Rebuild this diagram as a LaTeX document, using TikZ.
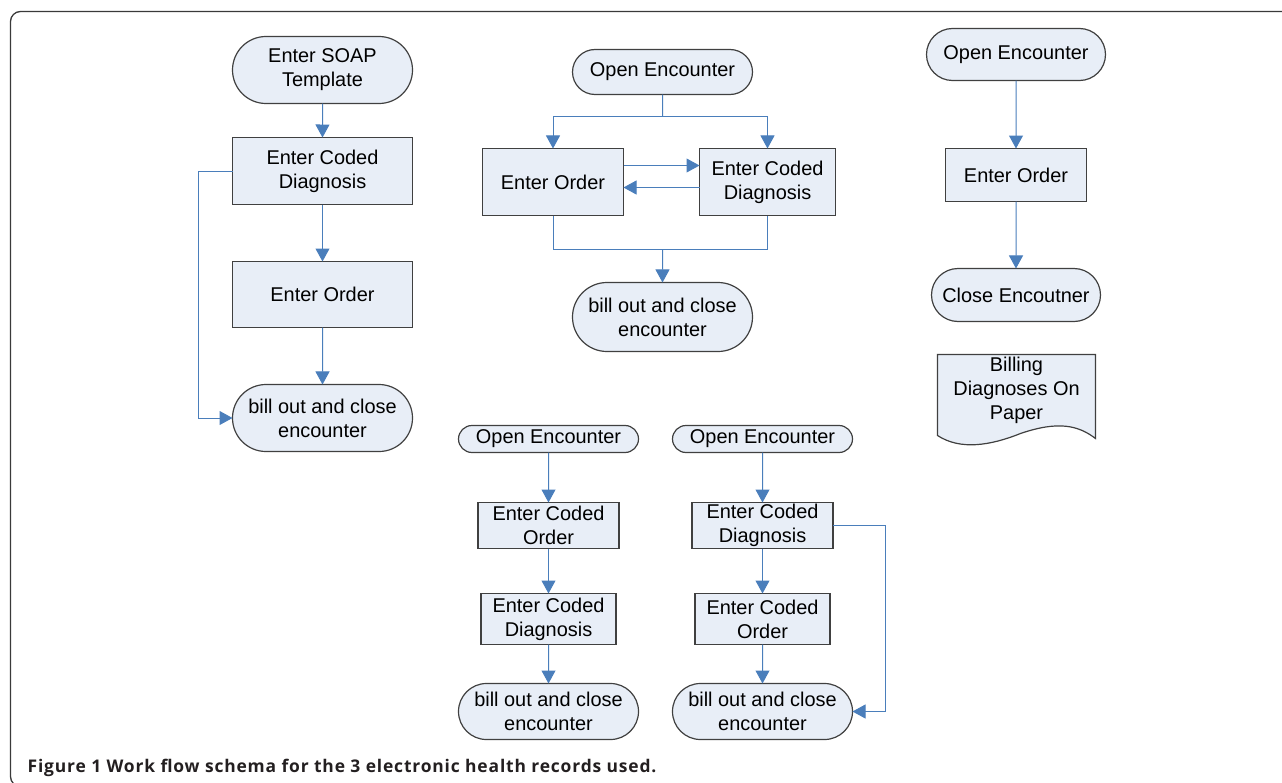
\documentclass[tikz,border=0pt]{standalone}
\usepackage{fontspec}
\setmainfont{Liberation Sans}
\newfontfamily\capfont[LetterSpace=4.8]{Open Sans}
\usepackage{xcolor}
\usetikzlibrary{positioning}
\usetikzlibrary{shapes.misc}
\usetikzlibrary{arrows.meta}
\definecolor{boxfill}{HTML}{E8EEF7}
\definecolor{boxline}{HTML}{404040}
\definecolor{flow}{HTML}{4A7EBB}
\definecolor{framegray}{HTML}{3A3A3A}
\definecolor{captext}{HTML}{231F20}

\begin{document}
\begin{tikzpicture}[x=1bp,y=-1bp,
  proc/.style={draw=boxline,fill=boxfill,line width=1.2bp,outer sep=0pt,align=center,inner sep=0pt,font=\fontsize{20}{24}\selectfont},
  term/.style={proc,rounded rectangle},
  link/.style={draw=flow,line width=1bp},
  arr/.style={link,-{Triangle[width=14bp,length=13bp]}}]
\useasboundingbox (-0.5,-0.5) rectangle (1281.5,782.5);
\draw [framegray,line width=1.3bp,rounded corners=10bp] (1300,11) -- (10,11) -- (10,786) -- (1300,786);

% first record
\node [term,minimum width=180bp,minimum height=67bp] (soap) at (322,69.5) {Enter SOAP\\Template};
\node [proc,minimum width=180bp,minimum height=67bp,below=34bp,at=(soap.south)] (diag1) {Enter Coded\\Diagnosis};
\node [proc,minimum width=180bp,minimum height=66bp,below=57bp,at=(diag1.south)] (order1) {Enter Order};
\node [term,minimum width=180bp,minimum height=67bp,below=57bp,at=(order1.south)] (bill1) {bill out and close\\encounter};

\draw [arr] (soap) -- (diag1);
\draw [arr] (diag1) -- (order1);
\draw [arr] (order1) -- (bill1);
\draw [arr] (diag1.west) -- ++(-34,0) |- (bill1.west);

% second record
\node [term,minimum width=180bp,minimum height=45bp] (open2) at (662,71.5) {Open Encounter};
\node [proc,minimum width=141bp,minimum height=67bp] (order2) at (552.5,181.5) {Enter Order};
\node [proc,minimum width=136bp,minimum height=67bp] (diag2) at (767,181.5) {Enter Coded\\Diagnosis};
\node [term,minimum width=180bp,minimum height=69bp] (bill2) at (662,316.5) {bill out and close\\encounter};
\coordinate (split2) at (662,116);
\coordinate (join2) at (662,249);

\draw [link] (open2) -- (split2);
\draw [arr] (split2) -| (order2);
\draw [arr] (split2) -| (diag2);
\draw [arr] ([yshift=16.5bp]order2.east) -- ([yshift=16.5bp]diag2.west);
\draw [arr] ([yshift=-5.5bp]diag2.west) -- ([yshift=-5.5bp]order2.east);
\draw [link] (order2.south) |- (join2) -| (diag2.south);
\draw [arr] (join2) -- (bill2);

% third record
\node [term,minimum width=179bp,minimum height=52bp] (open3) at (1015.5,54) {Open Encounter};
\node [proc,minimum width=141bp,minimum height=53bp,below=68bp,at=(open3.south)] (order3) {Enter Order};
\node [term,minimum width=169bp,minimum height=53bp,below=67bp,at=(order3.south)] (close3) {Close Encoutner};

\draw [arr] (open3) -- (order3);
\draw [arr] (order3) -- (close3);

% paper sheet
\draw [draw=boxline,fill=boxfill,line width=1.2bp] (937,354) -- (1095,354) -- (1095,438)
  .. controls (1078,425) and (1058,420) .. (1020,433)
  .. controls (990,445) and (960,450) .. (937,435) -- cycle;
\node [align=center,inner sep=0pt,font=\fontsize{20}{24}\selectfont] (paper) at (1016,390) {Billing\\Diagnoses On\\Paper};

% fourth record
\node [term,minimum width=180bp,minimum height=27bp] (open4) at (548,438.5) {Open Encounter};
\node [proc,minimum width=141bp,minimum height=46bp,below=50bp,at=(open4.south)] (order4) {Enter Coded\\Order};
\node [proc,minimum width=135bp,minimum height=51bp,below=45bp,at=(order4.south)] (diag4) {Enter Coded\\Diagnosis};
\node [term,minimum width=180bp,minimum height=56bp,below=39bp,at=(diag4.south)] (bill4) {bill out and close\\encounter};

\draw [arr] (open4) -- (order4);
\draw [arr] (order4) -- (diag4);
\draw [arr] (diag4) -- (bill4);

% fifth record
\node [term,minimum width=180bp,minimum height=27bp] (open5) at (762,438.5) {Open Encounter};
\node [proc,minimum width=141bp,minimum height=46bp,below=50bp,at=(open5.south)] (diag5) {Enter Coded\\Diagnosis};
\node [proc,minimum width=135bp,minimum height=51bp,below=45bp,at=(diag5.south)] (order5) {Enter Coded\\Order};
\node [term,minimum width=180bp,minimum height=56bp,below=39bp,at=(order5.south)] (bill5) {bill out and close\\encounter};

\draw [arr] (open5) -- (diag5);
\draw [arr] (diag5) -- (order5);
\draw [arr] (order5) -- (bill5);
\draw [arr] (diag5.east) -- ++(52,0) |- (bill5.east);

\node [anchor=base west,inner sep=0pt,text=captext,font=\capfont\bfseries\fontsize{17.5}{20}\selectfont] (caption) at (27,771.5) {Figure 1 Work flow schema for the 3 electronic health records used.};
\end{tikzpicture}
\end{document}
